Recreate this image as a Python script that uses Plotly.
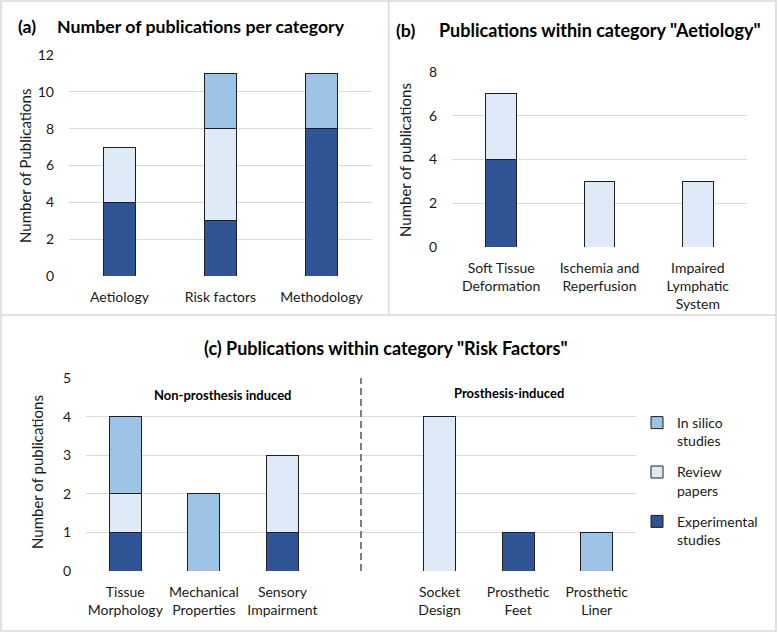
import plotly.graph_objects as go

W, H = 778, 632

# ---------------- data ----------------
series_names = ["Experimental<br>studies", "Review<br>papers", "In silico<br>studies"]
series_colors = ["#2F5597", "#DEEBF7", "#9DC3E6"]
series_rank = [3, 2, 1]

a_categories = ["Aetiology", "Risk factors", "Methodology"]
a_experimental = [4, 3, 8]
a_review = [3, 5, 0]
a_insilico = [0, 3, 3]

b_categories = ["Soft Tissue<br>Deformation", "Ischemia and<br>Reperfusion", "Impaired<br>Lymphatic<br>System"]
b_experimental = [4, 0, 0]
b_review = [3, 3, 3]
b_insilico = [0, 0, 0]

c_categories = ["Tissue<br>Morphology", "Mechanical<br>Properties", "Sensory<br>Impairment", " ",
                "Socket<br>Design", "Prosthetic<br>Feet", "Prosthetic<br>Liner"]
c_experimental = [1, 0, 1, None, 0, 1, 0]
c_review = [1, 0, 2, None, 4, 0, 0]
c_insilico = [2, 2, 0, None, 0, 0, 1]

a_ticks = [0, 2, 4, 6, 8, 10, 12]
b_ticks = [0, 2, 4, 6, 8]
c_ticks = [0, 1, 2, 3, 4, 5]

FONT = "Lato"
TXT = "#1a1a1a"
GRID = "#d9d9d9"

fig = go.Figure()

def add_panel(cats, vals_list, xa, ya, show, width):
    for name, color, rank, vals in zip(series_names, series_colors, series_rank, vals_list):
        fig.add_trace(go.Bar(
            x=cats, y=vals, name=name, xaxis=xa, yaxis=ya, width=width,
            marker=dict(color=color, line=dict(color="#1f1f1f", width=1)),
            showlegend=show, legendgroup=name, legendrank=rank,
        ))

add_panel(a_categories, [a_experimental, a_review, a_insilico], "x", "y", False, 0.32)
add_panel(b_categories, [b_experimental, b_review, b_insilico], "x2", "y2", False, 0.315)
add_panel(c_categories, [c_experimental, c_review, c_insilico], "x3", "y3", True, 0.41)

def px_x(p):
    return p / W

def px_y(p):
    return 1 - p / H

tickfont = dict(family=FONT, size=14, color=TXT)

common_x = dict(showgrid=False, zeroline=False, showline=False, ticks="",
                tickfont=tickfont, fixedrange=True, automargin=False,
                ticklabelstandoff=11)
common_y = dict(showgrid=True, gridcolor=GRID, gridwidth=1, zeroline=False,
                showline=False, ticks="", tickfont=tickfont, ticklabelstandoff=14,
                automargin=False)

fig.update_layout(
    width=W, height=H,
    margin=dict(l=0, r=0, t=0, b=0, autoexpand=False),
    paper_bgcolor="white", plot_bgcolor="white",
    barmode="stack",
    font=dict(family=FONT, color=TXT),
    xaxis=dict(domain=[px_x(69), px_x(372)], anchor="y", **common_x),
    yaxis=dict(domain=[px_y(276), px_y(55)], anchor="x", range=[0, 12],
               tickvals=a_ticks, **common_y),
    xaxis2=dict(domain=[px_x(452), px_x(747)], anchor="y2", **common_x),
    yaxis2=dict(domain=[px_y(247), px_y(72)], anchor="x2", range=[0, 8],
                tickvals=b_ticks, **common_y),
    xaxis3=dict(domain=[px_x(86), px_x(636)], anchor="y3",
                categoryorder="array", categoryarray=c_categories,
                range=[-0.5, 6.5], **common_x),
    yaxis3=dict(domain=[px_y(571), px_y(378)], anchor="x3", range=[0, 5],
                tickvals=c_ticks, **common_y),
    legend=dict(x=px_x(637), y=px_y(407), xanchor="left", yanchor="top",
                traceorder="grouped", tracegroupgap=10, valign="top",
                font=dict(family=FONT, size=14, color=TXT),
                itemwidth=30, bgcolor="rgba(0,0,0,0)"),
)

annotations = []
title_font = dict(family=FONT, size=17.7, color="#000000")
annotations.append(dict(text="<b>(a)</b>", x=px_x(16), y=px_y(26), xref="paper", yref="paper",
                        xanchor="left", yanchor="middle", showarrow=False, font=title_font))
annotations.append(dict(text="<b>Number of publications per category</b>", x=px_x(55), y=px_y(26),
                        xref="paper", yref="paper", xanchor="left", yanchor="middle",
                        showarrow=False, font=title_font))
annotations.append(dict(text="<b>(b)</b>", x=px_x(394), y=px_y(30), xref="paper", yref="paper",
                        xanchor="left", yanchor="middle", showarrow=False, font=title_font))
annotations.append(dict(text="<b>Publications within category \"Aetiology\"</b>", x=px_x(437), y=px_y(30),
                        xref="paper", yref="paper", xanchor="left", yanchor="middle",
                        showarrow=False, font=dict(family=FONT, size=18, color="#000000")))
annotations.append(dict(text="<b>(c) Publications within category \"Risk Factors\"</b>", x=px_x(386), y=px_y(348),
                        xref="paper", yref="paper", xanchor="center", yanchor="middle",
                        showarrow=False, font=dict(family=FONT, size=18, color="#000000")))
sub_font = dict(family=FONT, size=13, color="#000000")
annotations.append(dict(text="<b>Non-prosthesis induced</b>", x=px_x(223), y=px_y(395),
                        xref="paper", yref="paper", xanchor="center", yanchor="middle",
                        showarrow=False, font=sub_font))
annotations.append(dict(text="<b>Prosthesis-induced</b>", x=px_x(509), y=px_y(393),
                        xref="paper", yref="paper", xanchor="center", yanchor="middle",
                        showarrow=False, font=sub_font))
ytitle_font = dict(family=FONT, size=15, color=TXT)
annotations.append(dict(text="Number of Publications", x=px_x(25), y=px_y(166), xref="paper", yref="paper",
                        xanchor="center", yanchor="middle", textangle=-90, showarrow=False, font=ytitle_font))
annotations.append(dict(text="Number of publications", x=px_x(405), y=px_y(160), xref="paper", yref="paper",
                        xanchor="center", yanchor="middle", textangle=-90, showarrow=False, font=ytitle_font))
annotations.append(dict(text="Number of publications", x=px_x(37), y=px_y(472), xref="paper", yref="paper",
                        xanchor="center", yanchor="middle", textangle=-90, showarrow=False, font=ytitle_font))
fig.update_layout(annotations=annotations)

shapes = []
border = dict(color=GRID, width=1.5)
shapes.append(dict(type="rect", xref="paper", yref="paper", x0=px_x(1), x1=px_x(776),
                   y0=px_y(631), y1=px_y(1), line=border))
shapes.append(dict(type="line", xref="paper", yref="paper", x0=px_x(1), x1=px_x(776),
                   y0=px_y(315), y1=px_y(315), line=border))
shapes.append(dict(type="line", xref="paper", yref="paper", x0=px_x(388.7), x1=px_x(388.7),
                   y0=px_y(315), y1=px_y(1), line=border))
# dashed divider in panel (c), at the spacer category
shapes.append(dict(type="line", xref="x3", yref="y3", x0=3, x1=3, y0=0, y1=5,
                   line=dict(color="#7f7f7f", width=2, dash="7px,4px")))
fig.update_layout(shapes=shapes)

fig.write_html("out.html")
